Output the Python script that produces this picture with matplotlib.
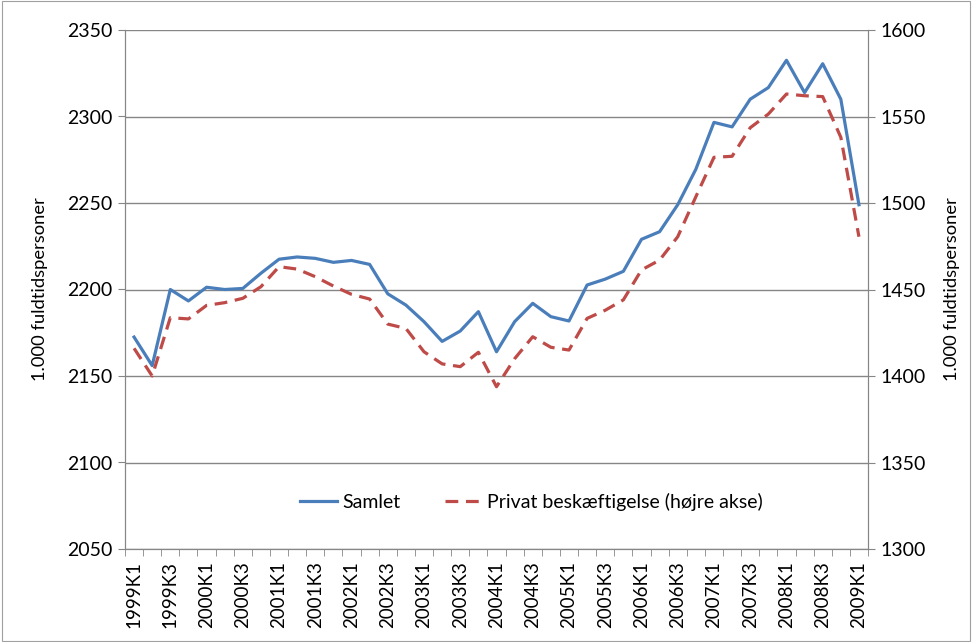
import numpy as np
import matplotlib.pyplot as plt
from matplotlib.patches import Rectangle

# kvartaler 1999K1 - 2009K1
kvartaler = [f"{aar}K{k}" for aar in range(1999, 2010) for k in range(1, 5)][:41]

# Samlet beskaeftigelse (venstre akse, 1.000 fuldtidspersoner)
samlet = [2172.5, 2156, 2200, 2193.4, 2201.3, 2200, 2200.6, 2209.4, 2217.5, 2218.8,
          2218, 2215.7, 2216.8, 2214.5, 2197.5, 2191, 2181.4, 2170, 2176, 2187.2,
          2164, 2181.4, 2192, 2184.3, 2181.8, 2202.6, 2206, 2210.5, 2229, 2233.4,
          2249, 2269.5, 2296.6, 2294, 2310, 2316.7, 2332.5, 2313.8, 2330.5, 2310,
          2249]

# Privat beskaeftigelse (hoejre akse)
privat = [1416, 1400, 1433.7, 1433, 1440.8, 1442.4, 1444.9, 1451.6, 1463.2, 1461.8,
          1457.4, 1452, 1447.2, 1444.5, 1430, 1427.5, 1414, 1407, 1405.4, 1413.7,
          1393.8, 1410, 1422.7, 1416.6, 1415, 1433.3, 1438, 1444, 1461.3, 1467,
          1480.5, 1503.6, 1526.4, 1527, 1543.5, 1551.4, 1563, 1562, 1561.5, 1538,
          1480.5]

blaa = "#4A7EBB"
roed = "#BE4B48"
graa = "#868686"

plt.rcParams['font.family'] = ['Lato', 'DejaVu Sans']

fig = plt.figure(figsize=(9.72, 6.42), dpi=100)
fig.patches.append(Rectangle((0.002, 0.002), 0.996, 0.996, transform=fig.transFigure,
                             fill=False, edgecolor="#A0A0A0", linewidth=0.8))
ax = fig.add_axes([125 / 972, 1 - 549 / 642, 743 / 972, 519 / 642])
ax2 = ax.twinx()

x = np.arange(len(kvartaler))
l1, = ax.plot(x, samlet, color=blaa, linewidth=2.3, label="Samlet", zorder=3)
l2, = ax2.plot(x, privat, color=roed, linewidth=2.3, dashes=(4, 2.4),
               label="Privat beskæftigelse (højre akse)", zorder=3)

ax.set_xlim(-0.5, len(x) - 0.5)
ax.set_ylim(2050, 2350)
ax2.set_ylim(1300, 1600)
ax.set_yticks(np.arange(2050, 2351, 50))
ax2.set_yticks(np.arange(1300, 1601, 50))

# gitterlinjer
ax.grid(axis="y", color=graa, linewidth=1)
ax.set_axisbelow(True)

# x-akse: labels hver anden kvartal, tick-streger mellem kategorier
ax.set_xticks(x[::2])
ax.set_xticklabels(kvartaler[::2], rotation=90, fontsize=13.5)
ax.set_xticks(np.arange(-0.5, len(x), 1), minor=True)
ax.tick_params(axis="x", which="major", length=0, pad=9)
ax.tick_params(axis="x", which="minor", length=5, color=graa, direction="out")
ax.tick_params(axis="y", length=5, color=graa, labelsize=14, pad=4)
ax2.tick_params(axis="y", length=5, color=graa, labelsize=14, pad=4)

for a in (ax, ax2):
    a.spines["top"].set_visible(False)
    for s in ("left", "right", "bottom"):
        a.spines[s].set_color(graa)

ax.set_ylabel("1.000 fuldtidspersoner", fontsize=13.2, labelpad=14)
ax2.set_ylabel("1.000 fuldtidspersoner", fontsize=13.2, labelpad=13)

ax.legend(handles=[l1, l2], loc="lower center", bbox_to_anchor=(0.547, 0.04),
          ncol=2, frameon=False, fontsize=14, handlelength=1.9,
          columnspacing=2.3, handletextpad=0.25)

fig.savefig("out.png", dpi=100)
